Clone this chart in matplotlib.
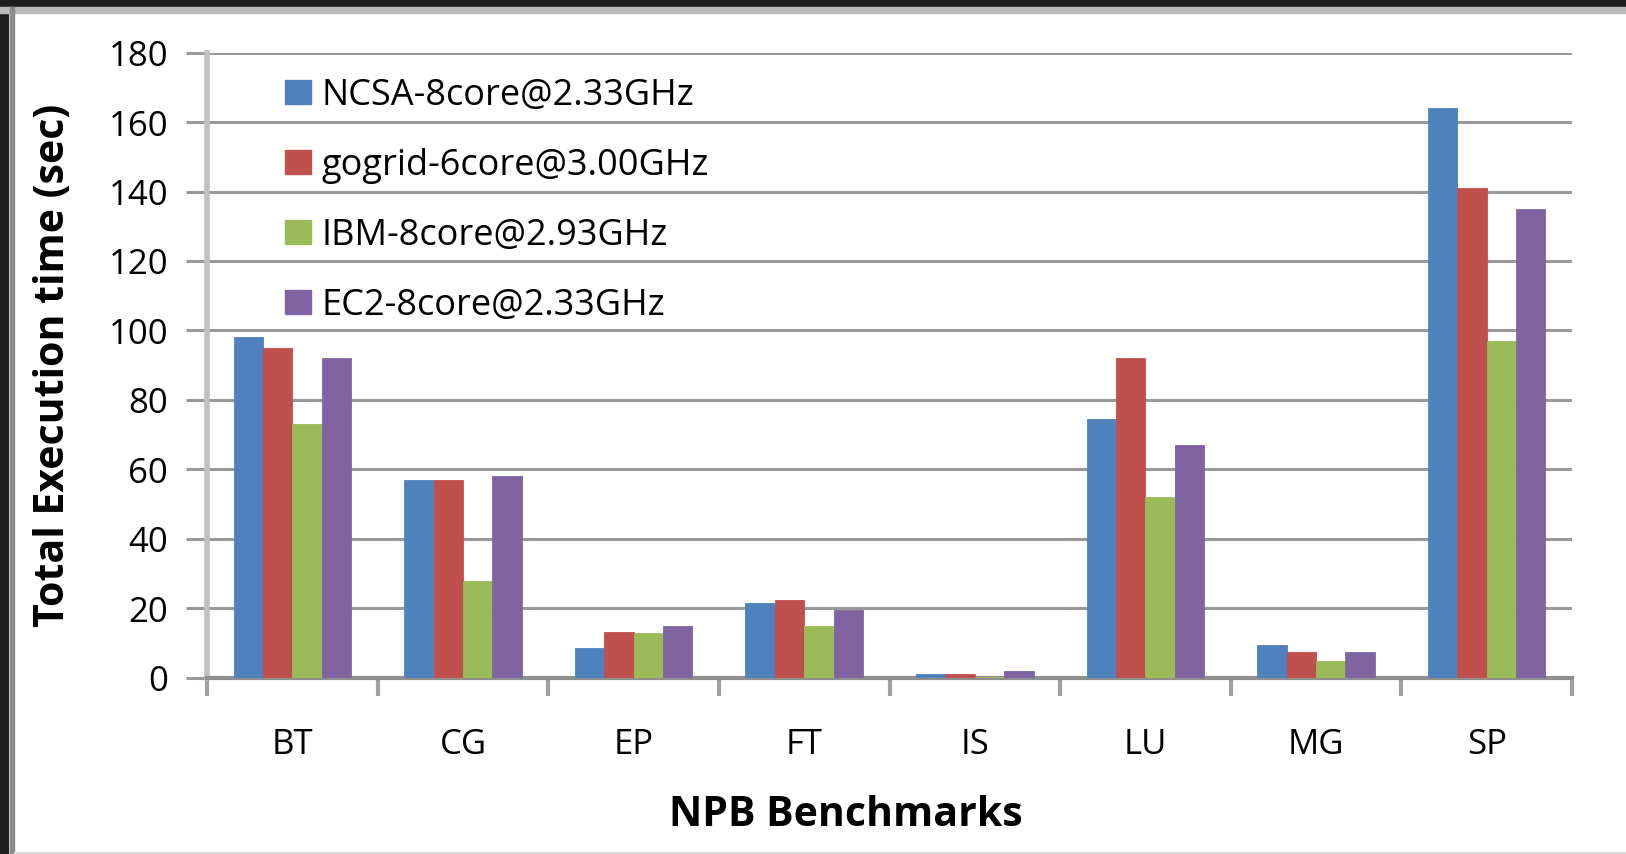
import numpy as np
import matplotlib.pyplot as plt
from matplotlib.patches import Rectangle, Patch

# NPB benchmark run times on four platforms
benchmarks = ["BT", "CG", "EP", "FT", "IS", "LU", "MG", "SP"]
ncsa = [98, 57, 8.6, 21.5, 1.0, 74.5, 9.5, 164]
gogrid = [95, 57, 13.3, 22.3, 1.2, 92, 7.5, 141]
ibm = [73, 28, 12.9, 14.8, 0.4, 52, 5, 97]
ec2 = [92, 58, 15, 19.6, 2.0, 67, 7.5, 135]

series = [
    ("NCSA-8core@2.33GHz", ncsa, "#4F81BD"),
    ("gogrid-6core@3.00GHz", gogrid, "#C0504D"),
    ("IBM-8core@2.93GHz", ibm, "#9BBB59"),
    ("EC2-8core@2.33GHz", ec2, "#8064A2"),
]

W, H = 1626, 854
fig = plt.figure(figsize=(W / 100, 8.545), dpi=100)
fig.patch.set_facecolor("white")
plt.rcParams["font.family"] = ["Open Sans", "DejaVu Sans"]

# dark screen border on the top and left, thin grey frame inside it
fig.patches.append(Rectangle((0, 1 - 7 / H), 1, 7 / H, transform=fig.transFigure,
                             color="#1e1e1e", zorder=0))
fig.patches.append(Rectangle((0, 0), 8 / W, 1, transform=fig.transFigure,
                             color="#1e1e1e", zorder=0))
fig.patches.append(Rectangle((0, 1 - 13 / H), 1, 6 / H, transform=fig.transFigure,
                             color="#b9b9b9", zorder=0))
fig.patches.append(Rectangle((10 / W, 0), 4 / W, 1 - 7 / H, transform=fig.transFigure,
                             color="#8a8a8a", zorder=0))
fig.patches.append(Rectangle((14 / W, 0), 1, 2 / H, transform=fig.transFigure,
                             color="#dddddd", zorder=0))

ax = fig.add_axes([207 / W, 1 - 678 / H, (1572 - 207) / W, (678 - 53) / H])

x = np.arange(len(benchmarks))
width = 0.172
for i, (name, vals, color) in enumerate(series):
    ax.bar(x + (i - 1.5) * width, vals, width, color=color, label=name, zorder=3,
           edgecolor=color, linewidth=0.6)

ax.set_xlim(-0.5, len(benchmarks) - 0.5)
ax.set_ylim(0, 180)
ax.set_yticks(np.arange(0, 181, 20))
ax.yaxis.grid(True, color="#999999", linewidth=2.2, zorder=0)
ax.set_axisbelow(True)

# category labels centred, tick marks on the category boundaries
ax.set_xticks(x)
ax.set_xticklabels(benchmarks, fontsize=25)
ax.set_xticks(np.arange(-0.5, len(benchmarks), 1), minor=True)
ax.tick_params(axis="x", which="major", length=0, pad=36)
ax.tick_params(axis="x", which="minor", length=13, width=3, color="#a0a0a0",
               direction="out")
ax.tick_params(axis="y", length=15, width=2.2, color="#999999", labelsize=25, pad=13)

for side in ("top", "right"):
    ax.spines[side].set_visible(False)
ax.spines["left"].set_color("#c0c0c0")
ax.spines["left"].set_linewidth(4)
ax.spines["bottom"].set_color("#8f8f8f")
ax.spines["bottom"].set_linewidth(3)

ax.set_xlabel("NPB Benchmarks", fontsize=29.5, fontweight="bold")
ax.set_ylabel("Total Execution time (sec)", fontsize=29.5, fontweight="bold")
ax.xaxis.set_label_coords((846 - 207) / (1572 - 207), -(815 - 678) / (678 - 53))
ax.xaxis.label.set_va("center")
ax.yaxis.set_label_coords(-(207 - 54) / (1572 - 207), 0.5)
ax.yaxis.label.set_va("center")

handles = [Patch(facecolor=c, edgecolor=c) for _, _, c in series]
ax.legend(handles, [s[0] for s in series], loc="upper left",
          bbox_to_anchor=(285 / W, 1 - 78 / H), bbox_transform=fig.transFigure,
          frameon=False, fontsize=26, handlelength=0.72, handleheight=0.64,
          handletextpad=0.29, labelspacing=0.94, borderaxespad=0, borderpad=0)

fig.savefig("out.png", dpi=100)
